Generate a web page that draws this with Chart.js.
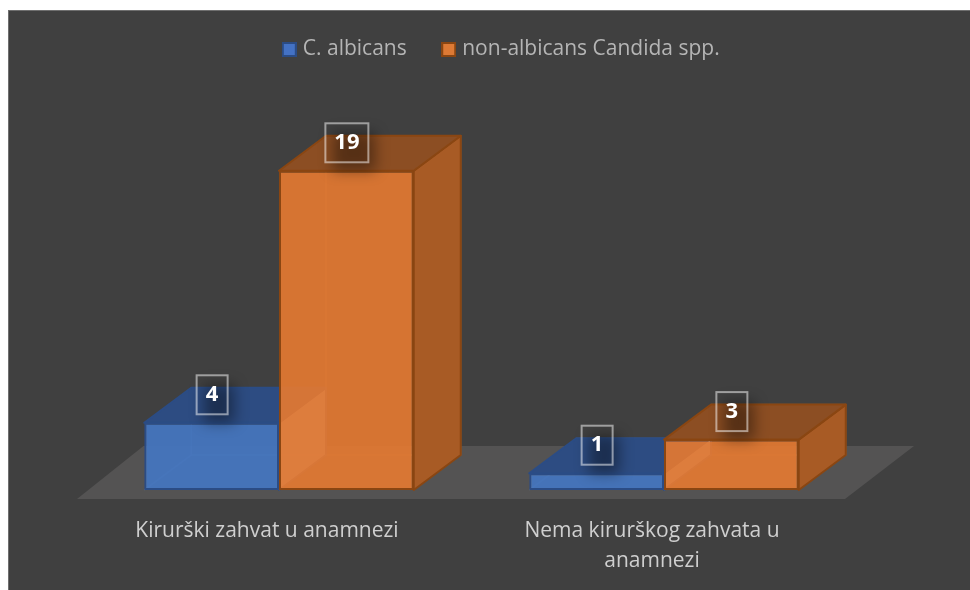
<!DOCTYPE html>
<html><head><meta charset="utf-8">
<style>html,body{margin:0;padding:0;background:#fff}canvas{display:block}</style>
<script src="https://cdn.jsdelivr.net/npm/chart.js@4"></script>
</head><body><div style="width:970px;height:590px"><canvas id="c" width="970" height="590"></canvas></div>
<script>
const categories = [["Kirurški zahvat u anamnezi"], ["Nema kirurškog zahvata u", "anamnezi"]];
const seriesNames = ["C. albicans", "non-albicans Candida spp."];
const albicans = [4, 1];
const nonAlbicans = [19, 3];

const FONT = '"Open Sans"';
const DX = 47, DY = -35;
const palette = [
  {front:'rgba(68,118,193,0.92)', edge:'#2b4c85', top:'rgba(45,76,130,1)', side:'rgba(170,190,225,0.9)', ghost:'rgba(150,180,235,0.22)', icon:'#4472c4'},
  {front:'rgba(226,120,50,0.93)', edge:'#8a4612', top:'rgba(140,78,35,1)', side:'rgba(168,91,37,1)', ghost:'rgba(255,190,130,0.22)', icon:'#dd7a35'}
];
function icon(p){
  const c=document.createElement('canvas');c.width=15;c.height=15;
  const x=c.getContext('2d');x.fillStyle=p.edge;x.fillRect(0,0,15,15);x.fillStyle=p.icon;x.fillRect(2,2,11,11);
  return c;
}
const icons = palette.map(icon);
function poly(ctx,pts,fill,stroke,lw){
  ctx.beginPath();pts.forEach((p,i)=>i?ctx.lineTo(p[0],p[1]):ctx.moveTo(p[0],p[1]));ctx.closePath();
  if(fill){ctx.fillStyle=fill;ctx.fill();}
  if(stroke){ctx.strokeStyle=stroke;ctx.lineWidth=lw||2;ctx.lineJoin='round';ctx.stroke();}
}
function faces(chart,index){
  const {ctx}=chart,p=palette[index];
  chart.getDatasetMeta(index).data.forEach(el=>{
    const L=el.x-el.width/2,R=el.x+el.width/2,T=el.y,B=el.base;
    ctx.save();
    poly(ctx,[[L+DX,T+DY],[R+DX,T+DY],[R+DX,B+DY],[L+DX,B+DY]],null,p.ghost,1.5);
    ctx.beginPath();ctx.moveTo(L,B);ctx.lineTo(L+DX,B+DY);ctx.strokeStyle=p.ghost;ctx.lineWidth=1.5;ctx.stroke();
    poly(ctx,[[R,T],[R+DX,T+DY],[R+DX,B+DY],[R,B]],p.side,p.edge,2);
    poly(ctx,[[L,T],[L+DX,T+DY],[R+DX,T+DY],[R,T]],p.top,p.edge,2);
    ctx.restore();
  });
}
const scene3d = {
  id:'scene3d',
  beforeLayout(chart){
    const l=chart.legend;
    if(l && !l._fixed){const f=l.fit;l.fit=function(){f.call(this);this.height=154;};l._fixed=true;}
  },
  afterLayout(chart){
    const l=chart.legend;l.left+=31.5;l.right+=31.5;
  },
  beforeDraw(chart){
    const {ctx,width,height}=chart;
    ctx.save();
    ctx.fillStyle='#ffffff';ctx.fillRect(0,0,width,height);
    ctx.fillStyle='#404040';ctx.fillRect(8,10,width-8,height-10);
    ctx.fillStyle='#6f6f6f';ctx.fillRect(8,10,width-8,1);ctx.fillRect(8,10,1,height-10);
    ctx.restore();
  },
  beforeDatasetsDraw(chart){
    const {ctx,chartArea:a}=chart;
    const b=a.bottom, l=a.left, r=a.right;
    poly(ctx,[[l-9.5,b+9],[r-11.5,b+9],[r+57.5,b-44],[l+57,b-44]],'#545353');
  },
  // The left series must lie under the right one, so the right series is held back and drawn after it.
  beforeDatasetDraw(chart,args){
    if(args.index===1) return false;
    faces(chart,0);
  },
  afterDatasetDraw(chart,args){
    if(args.index===0){
      faces(chart,1);
      chart.getDatasetMeta(1).controller.draw();
    }
  },
  afterDatasetsDraw(chart){
    const {ctx}=chart;
    [0,1].forEach(di=>{
      chart.getDatasetMeta(di).data.forEach((el,i)=>{
        const txt=String(chart.data.datasets[di].data[i]);
        ctx.save();
        ctx.font='bold 22px '+FONT;
        const w=Math.round(ctx.measureText(txt).width)+18,h=39;
        const cx=el.x+0.5,cy=el.y-28,x=cx-w/2,y=cy-h/2;
        ctx.save();
        ctx.shadowColor='rgba(0,0,0,0.38)';ctx.shadowBlur=14;
        ctx.shadowOffsetX=2000+7;ctx.shadowOffsetY=9;
        ctx.fillStyle='#000';ctx.fillRect(x-2000,y,w,h);
        ctx.restore();
        ctx.strokeStyle='rgba(255,255,255,0.5)';ctx.lineWidth=2;ctx.strokeRect(x,y,w,h);
        ctx.fillStyle='#fff';ctx.textAlign='center';ctx.textBaseline='middle';
        ctx.fillText(txt,cx,cy);
        ctx.restore();
      });
    });
  }
};
new Chart(document.getElementById('c'),{
  type:'bar',
  data:{labels:categories,datasets:[
    {label:seriesNames[0],data:albicans,backgroundColor:palette[0].front,borderColor:palette[0].edge,borderWidth:2,borderSkipped:false,categoryPercentage:0.7,barPercentage:1},
    {label:seriesNames[1],data:nonAlbicans,backgroundColor:palette[1].front,borderColor:palette[1].edge,borderWidth:2,borderSkipped:false,categoryPercentage:0.7,barPercentage:1}
  ]},
  options:{
    responsive:false,animation:false,
    layout:{padding:{left:86.5,right:113.5,top:0,bottom:0}},
    plugins:{
      tooltip:{enabled:false},
      legend:{position:'top',align:'center',labels:{
        font:{family:FONT,size:21},color:'#b5b5b5',usePointStyle:true,boxWidth:6,padding:39,
        generateLabels:c=>c.data.datasets.map((d,i)=>({text:d.label,pointStyle:icons[i],datasetIndex:i,fontColor:'#b5b5b5',lineWidth:0}))
      }}
    },
    scales:{
      x:{grid:{display:false,drawTicks:false},border:{display:false},
        afterFit(s){s.height=100;},
        ticks:{color:'#cfcfcf',font:{family:FONT,size:21,lineHeight:1.43},padding:26,maxRotation:0,autoSkip:false,labelOffset:-12}},
      y:{display:false,min:0,max:20}
    }
  },
  plugins:[scene3d]
});
</script></body></html>
